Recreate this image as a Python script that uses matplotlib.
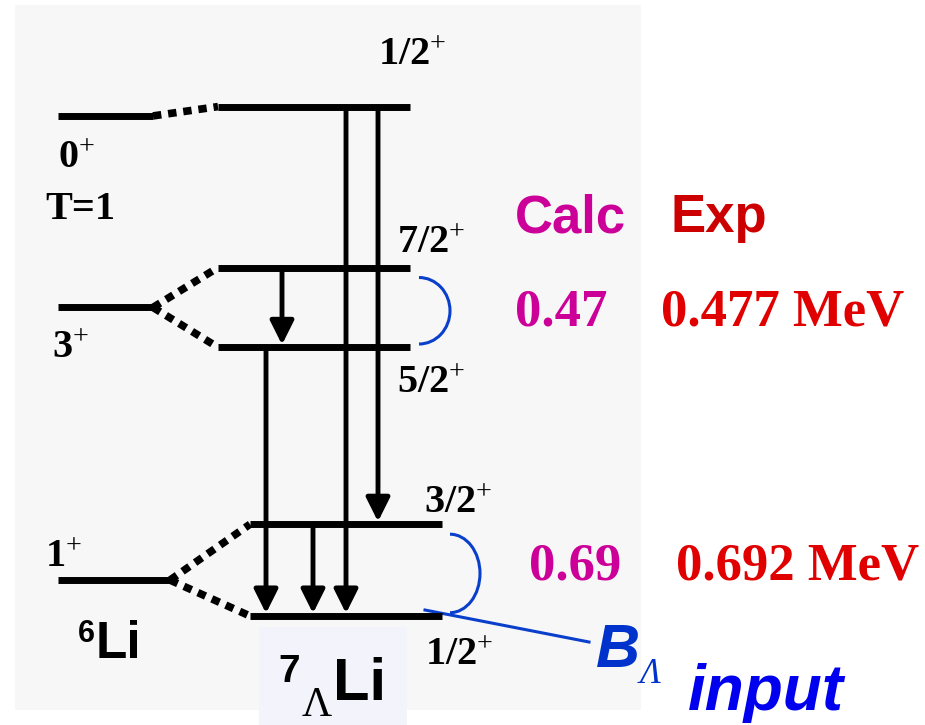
import matplotlib.pyplot as plt
from matplotlib.patches import Rectangle, Arc

plt.rcParams['mathtext.fontset'] = 'custom'
plt.rcParams['mathtext.rm'] = 'Liberation Serif'
plt.rcParams['mathtext.bf'] = 'Liberation Serif:bold'
plt.rcParams['mathtext.it'] = 'Liberation Serif:italic'

# ---- data (energies in MeV, as drawn) ----
li6_labels = ['1', '3', '0']
li6_E = [0.27, 2.32, 3.76]

hyp_labels = ['1/2', '3/2', '5/2', '7/2', '1/2']
hyp_E = [0.0, 0.69, 2.02, 2.62, 3.83]

# core level -> hypernuclear doublet members
couplings = [(0, 0), (0, 1), (1, 2), (1, 3), (2, 4)]

# gamma transitions (from, to)
transitions = [(4, 0), (4, 1), (3, 2), (2, 0), (1, 0)]

calc_vals = ['0.47', '0.69']
exp_vals = ['0.477', '0.692']

# ---- layout ----
PX = 133.0  # pixels per MeV


def ey(p):
    return (616 - p) / PX


li6_x = [(58, 170), (58, 153), (58, 153)]
hyp_x = [(250, 442), (250, 442), (218, 410), (218, 410), (218, 410)]
trans_x = [346, 378, 282, 266, 313]

fig = plt.figure(figsize=(9.25, 7.25), dpi=100)
ax = fig.add_axes([0, 0, 1, 1])
ax.set_xlim(0, 925)
ax.set_ylim(ey(725), ey(0))
ax.axis('off')

ax.add_patch(Rectangle((15, ey(710)), 626, 705 / PX, fc='#f7f7f7', ec='none', zorder=0))
ax.add_patch(Rectangle((259, ey(725)), 148, 98 / PX, fc='#f3f3fc', ec='none', zorder=0))

# levels
for (x0, x1), e in zip(li6_x, li6_E):
    ax.plot([x0, x1], [e, e], color='black', lw=5, solid_capstyle='butt', zorder=3)
for (x0, x1), e in zip(hyp_x, hyp_E):
    ax.plot([x0, x1], [e, e], color='black', lw=5, solid_capstyle='butt', zorder=3)

# dotted connectors
for i, j in couplings:
    ax.plot([li6_x[i][1], hyp_x[j][0]], [li6_E[i], hyp_E[j]], color='black', lw=5.5,
            linestyle=(0, (1.1, 0.9)), dash_capstyle='butt', zorder=3)

# transitions
for x, (i, j) in zip(trans_x, transitions):
    ax.annotate('', xy=(x, hyp_E[j] + 0.02), xytext=(x, hyp_E[i]),
                arrowprops=dict(arrowstyle='-|>,head_length=0.6,head_width=0.3', lw=3.5,
                                color='black', mutation_scale=24, shrinkA=0, shrinkB=0),
                zorder=4)

# spin labels
serif = dict(family='Liberation Serif', fontsize=29, color='black', va='baseline')
li6_lab_pos = [(45, 567), (52, 358), (58, 168)]
for (x, yb), lab in zip(li6_lab_pos, li6_labels):
    ax.text(x, ey(yb), r'$\mathbf{%s}^{+}$' % lab, **serif)
ax.text(45, ey(219), 'T=1', fontweight='bold', **serif)

hyp_lab_pos = [(425, 665), (424, 513), (397, 393), (397, 253), (378, 65)]
for (x, yb), lab in zip(hyp_lab_pos, hyp_labels):
    ax.text(x, ey(yb), r'$\mathbf{%s}^{+}$' % lab, **serif)

# nucleus names
ax.text(78, ey(642), '6', family='Liberation Sans', fontweight='bold', fontsize=22, va='baseline')
ax.text(96, ey(658), 'Li', family='Liberation Sans', fontweight='bold', fontsize=37, va='baseline')
ax.text(278, ey(682), '7', family='Liberation Sans', fontweight='bold', fontsize=28, va='baseline')
ax.text(302, ey(716), '\u039b', family='Liberation Serif', fontsize=30, va='baseline')
ax.text(333, ey(700), 'Li', family='Liberation Sans', fontweight='bold', fontsize=43, va='baseline')

# splitting brackets
blue = '#0a3fcc'
pairs = [(2, 3, 419, 31), (0, 1, 450, 30)]
for lo, hi, xc, rx in pairs:
    ec = (hyp_E[lo] + hyp_E[hi]) / 2 - 0.025
    h = hyp_E[hi] - hyp_E[lo] - 0.1
    ax.add_patch(Arc((xc, ec), 2 * rx, h, theta1=-90, theta2=90, color=blue, lw=2.2, zorder=2))
ax.plot([425, 589], [hyp_E[0] + 0.045, ey(642)], color=blue, lw=2.2, zorder=2)

# Calc / Exp columns
ax.text(515, ey(232), 'Calc', family='Liberation Sans', fontweight='bold', fontsize=38,
        color='#cc0099', va='baseline')
ax.text(671, ey(232), 'Exp', family='Liberation Sans', fontweight='bold', fontsize=38,
        color='#cc0000', va='baseline')
val_pos = [(515, 661, 325), (529, 676, 580)]
for (xc, xe, yb), c, e in zip(val_pos, calc_vals, exp_vals):
    ax.text(xc, ey(yb), c, family='Liberation Serif', fontweight='bold', fontsize=38,
            color='#cc0099', va='baseline')
    ax.text(xe, ey(yb), e + ' MeV', family='Liberation Serif', fontweight='bold', fontsize=38,
            color='#e00000', va='baseline')

# B_Lambda input
ax.text(596, ey(667), 'B', family='Liberation Sans', fontweight='bold', style='italic',
        fontsize=44, color='#0033cc', va='baseline')
ax.text(640, ey(683), '\u039b', family='Liberation Serif', style='italic',
        fontsize=25, color='#0033cc', va='baseline')
ax.text(688, ey(710), 'input', family='Liberation Sans', fontweight='bold', style='italic',
        fontsize=46, color='#0000ee', va='baseline')

plt.savefig('out.png', dpi=100)
